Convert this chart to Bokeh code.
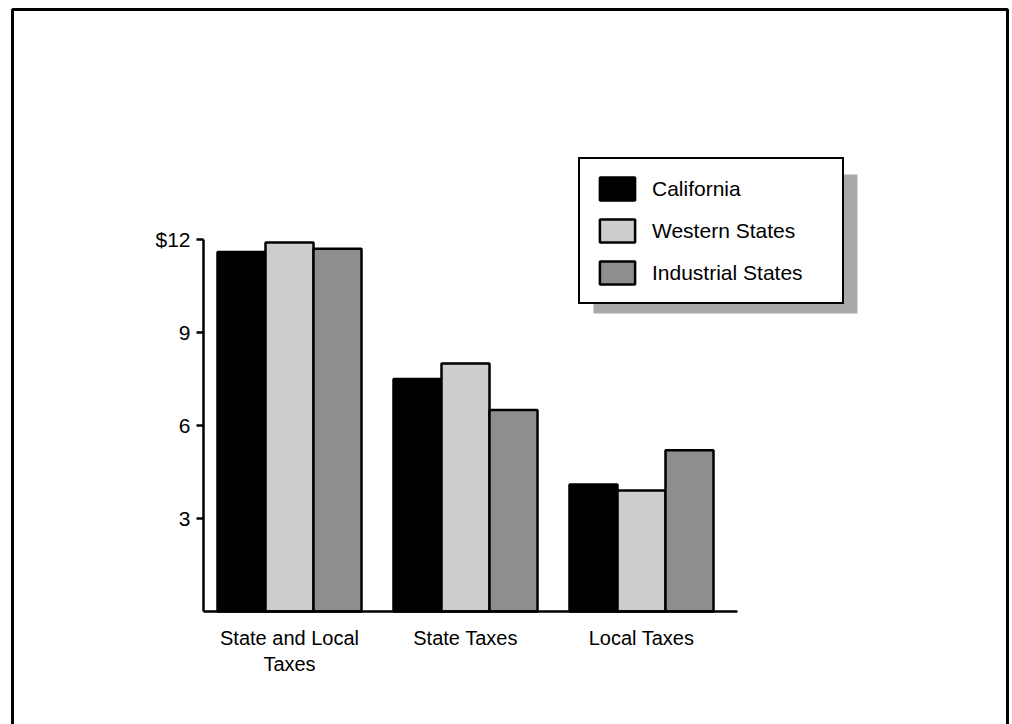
from bokeh.plotting import figure
from bokeh.models import (Range1d, LinearAxis, FixedTicker, Legend, LegendItem,
                          BoxAnnotation)
from bokeh.embed import file_html
from bokeh.resources import INLINE

# Per-capita tax figures, in dollars
categories = ["State and Local\nTaxes", "State Taxes", "Local Taxes"]
series = ["California", "Western States", "Industrial States"]
california = [11.6, 7.5, 4.1]
western = [11.9, 8.0, 3.9]
industrial = [11.7, 6.5, 5.2]
y_ticks = [3, 6, 9, 12]
y_tick_labels = {12: "$12"}

W, H = 1012, 724
FONT = "Liberation Sans"

# screen layout of the plotting area (pixels from top-left of the canvas)
x0_px, group_px = 289, 176        # centre of first group, distance between groups
y0_px, unit_px = 611, 31          # baseline and pixels per dollar
axis_left_px, axis_right_px = 203, 737

def to_x(px):
    return (px - x0_px) / group_px

def to_y(py):
    return (y0_px - py) / unit_px

p = figure(width=W, height=H, output_backend="svg", toolbar_location=None,
           x_range=Range1d(to_x(0), to_x(W)), y_range=Range1d(to_y(H), to_y(0)),
           x_axis_type=None, y_axis_type=None, min_border=0)
p.title.visible = False
p.xgrid.visible = False
p.ygrid.visible = False
p.outline_line_color = None
p.background_fill_color = "white"
p.border_fill_color = "white"

bar_w = 48 / group_px
xs = list(range(len(categories)))
fills = ["black", "#cdcdcd", "#8e8e8e"]
renderers = []
for k, (vals, col) in enumerate(zip([california, western, industrial], fills)):
    off = (k - 1) * bar_w
    r = p.vbar(x=[i + off for i in xs], top=vals, bottom=0, width=bar_w,
               fill_color=col, line_color="black", line_width=2.5)
    renderers.append(r)

# y axis
yax = LinearAxis(fixed_location=to_x(axis_left_px), bounds=(0, 12),
                 ticker=FixedTicker(ticks=y_ticks))
yax.major_label_overrides = y_tick_labels
yax.axis_line_width = 2.5
yax.major_tick_line_width = 2.5
yax.major_tick_out = 7
yax.major_tick_in = 0
yax.minor_tick_out = 0
yax.minor_tick_in = 0
yax.major_label_standoff = 6
yax.major_label_text_font = FONT
yax.major_label_text_font_size = "21px"
yax.major_label_text_color = "black"
p.add_layout(yax, "left")

# x axis
xax = LinearAxis(fixed_location=0, bounds=(to_x(axis_left_px), to_x(axis_right_px)),
                 ticker=FixedTicker(ticks=xs))
xax.major_label_overrides = {i: c for i, c in enumerate(categories)}
xax.axis_line_width = 2.5
xax.major_tick_out = 0
xax.major_tick_in = 0
xax.minor_tick_out = 0
xax.minor_tick_in = 0
xax.major_label_standoff = 15
xax.major_label_text_font = FONT
xax.major_label_text_font_size = "20px"
xax.major_label_text_color = "black"
p.add_layout(xax, "below")

# legend drop shadow
shadow = BoxAnnotation(left=593, right=857, bottom=H - 313, top=H - 174,
                       left_units="screen", right_units="screen",
                       bottom_units="screen", top_units="screen",
                       fill_color="#a8a8a8", fill_alpha=1, line_color=None,
                       level="underlay")
p.add_layout(shadow)

legend = Legend(items=[LegendItem(label=s, renderers=[r]) for s, r in zip(series, renderers)],
                location=(578, H - 304), margin=0, padding=15, spacing=13,
                glyph_width=44, glyph_height=29, label_standoff=13, label_width=175,
                label_text_font=FONT, label_text_font_size="21px",
                label_text_color="black", border_line_color="black",
                border_line_alpha=1, border_line_width=2.5,
                background_fill_color="white", background_fill_alpha=1)
p.add_layout(legend, "center")

# page border
border = BoxAnnotation(left=12, right=1007, bottom=-20, top=H - 9,
                       left_units="screen", right_units="screen",
                       bottom_units="screen", top_units="screen",
                       fill_color=None, fill_alpha=0, line_color="black",
                       line_alpha=1, line_width=3)
p.add_layout(border)

open("out.html", "w").write(file_html(p, INLINE))
